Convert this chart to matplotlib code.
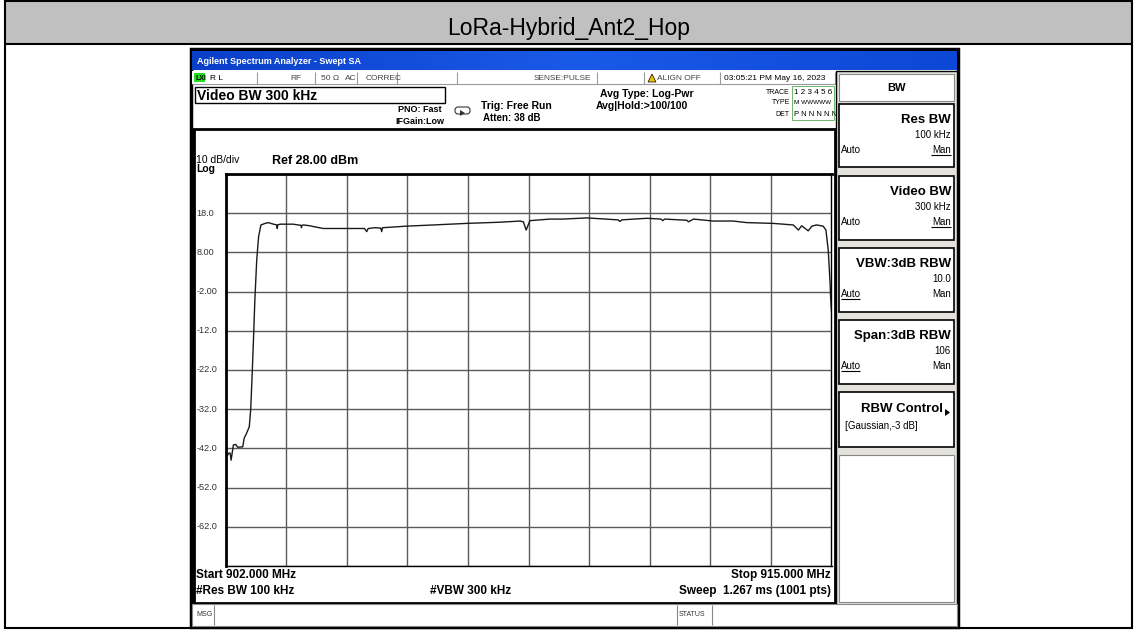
import matplotlib
matplotlib.use("Agg")
import matplotlib.pyplot as plt
from matplotlib.patches import Rectangle, Polygon, FancyBboxPatch
from matplotlib.colors import LinearSegmentedColormap
import numpy as np

plt.rcParams['font.family'] = ['Liberation Sans', 'DejaVu Sans']

# ---------------- data ----------------
title = "LoRa-Hybrid_Ant2_Hop"
start_mhz = 902.0
stop_mhz = 915.0
ref_dbm = 28.0
db_per_div = 10.0
ytick_labels = ["18.0", "8.00", "-2.00", "-12.0", "-22.0", "-32.0", "-42.0", "-52.0", "-62.0"]
ytick_values = [18.0, 8.0, -2.0, -12.0, -22.0, -32.0, -42.0, -52.0, -62.0]

freq_mhz = [902.00, 902.03, 902.07, 902.10, 902.12, 902.17, 902.22, 902.26, 902.37,
            902.40, 902.45, 902.51, 902.54, 902.57, 902.60, 902.63, 902.67, 902.71,
            902.76, 902.85, 902.92, 903.03, 903.10, 903.11, 903.12, 903.17, 903.31,
            903.45, 903.62, 903.63, 903.64, 903.67, 903.81, 903.88, 904.10, 904.31,
            904.60, 904.98, 905.03, 905.06, 905.21, 905.33, 905.35, 905.37, 905.89,
            906.46, 907.17, 907.89, 908.32, 908.39, 908.45, 908.53, 908.96, 909.25,
            909.75, 910.42, 910.46, 910.50, 911.04, 911.34, 911.38, 911.42, 911.90,
            911.93, 912.04, 912.46, 912.89, 913.18, 913.75, 914.18, 914.29, 914.36,
            914.50, 914.58, 914.68, 914.82, 914.88, 914.93, 914.97, 914.98, 915.00]
level_dbm = [-46.0, -44.1, -43.2, -43.2, -45.0, -41.1, -41.0, -41.7, -41.6,
             -39.4, -38.2, -36.5, -32.2, -23.7, -14.3, -4.1, 6.1, 12.0,
             15.0, 15.4, 15.6, 15.2, 15.0, 14.1, 15.0, 15.2, 15.2,
             15.2, 14.9, 14.3, 14.9, 15.0, 14.8, 14.6, 14.1, 14.1,
             14.1, 14.1, 13.3, 14.1, 14.3, 14.2, 13.3, 14.3, 14.7,
             15.0, 15.4, 15.7, 16.0, 15.8, 13.7, 16.1, 16.5, 16.5,
             16.8, 16.3, 15.9, 16.3, 16.7, 16.5, 16.1, 16.5, 16.2,
             15.8, 16.5, 16.0, 16.0, 15.6, 15.4, 15.0, 13.7, 14.8,
             13.5, 14.7, 15.0, 14.7, 13.7, 8.6, 0.1, -3.3, -7.0]

# ---------------- figure ----------------
W, H = 1137, 630
fig = plt.figure(figsize=(W / 100, H / 100), dpi=100)
bg = fig.add_axes([0, 0, 1, 1])
bg.set_xlim(0, W)
bg.set_ylim(H, 0)
bg.axis('off')


def rect(x0, y0, x1, y1, fc='none', ec='black', lw=1.0, z=1):
    bg.add_patch(Rectangle((x0, y0), x1 - x0, y1 - y0, facecolor=fc,
                           edgecolor=ec, linewidth=lw, zorder=z))


def txt(x, y, s, size=7, weight='normal', ha='left', va='center', color='black', z=5, **kw):
    bg.text(x, y, s, fontsize=size, fontweight=weight, ha=ha, va=va, color=color, zorder=z, **kw)


def hline(x0, x1, y, color='black', lw=1.0, z=2):
    bg.plot([x0, x1], [y, y], color=color, lw=lw, zorder=z, solid_capstyle='butt')


def vline(x, y0, y1, color='black', lw=1.0, z=2):
    bg.plot([x, x], [y0, y1], color=color, lw=lw, zorder=z, solid_capstyle='butt')


# outer table
rect(5, 0, 1132, 44, fc='#c0c0c0', ec='none', z=0)
rect(5, 1, 1132, 628, fc='none', ec='black', lw=1.5, z=3)
hline(5, 1132, 44, lw=1.5, z=3)
txt(W / 2, 29, title, size=16.5, ha='center')

# screenshot frame
rect(191, 49, 958, 627, fc='white', ec='black', lw=2.5, z=1)
grad = np.linspace(0, 1, 256).reshape(1, -1)
bluecmap = LinearSegmentedColormap.from_list('b', ['#0a3fc8', '#1a5ae8', '#0d47d6'])
bg.imshow(grad, extent=(192, 957, 70, 51), aspect='auto', cmap=bluecmap, zorder=2)
txt(197, 61, "Agilent Spectrum Analyzer - Swept SA", size=6.5, weight='bold', color='white', z=4)

# status row
rect(192, 71, 835, 84, fc='white', ec='none', z=2)
hline(192, 835, 84, color='#9a9a9a', lw=0.8)
rect(194, 73, 205, 82, fc='#22dd22', ec='none', z=3)
txt(195, 78, "LXI", size=5, weight='bold', color='black', z=4)
txt(210, 78, "R L", size=6)
txt(290, 78, "RF", size=6, color='#444444')
txt(321, 78, "50 Ω", size=6, color='#444444')
txt(345, 78, "AC", size=6, color='#444444')
txt(366, 78, "CORREC", size=6, color='#444444')
txt(534, 78, "SENSE:PULSE", size=6, color='#444444')
bg.add_patch(Polygon([[648, 82], [652, 74], [656, 82]], closed=True, fc='#f0c000', ec='black', lw=0.5, zorder=4))
txt(657, 78, "ALIGN OFF", size=6, color='#444444')
txt(724, 78, "03:05:21 PM May 16, 2023", size=6)
for sx in [257, 315, 357, 397, 457, 597, 644, 720, 835]:
    vline(sx, 72, 84, color='#9a9a9a', lw=0.8)

# second row
rect(195, 87, 445, 103, fc='white', ec='black', lw=1.0, z=3)
txt(197, 96, "Video BW 300 kHz", size=10, weight='bold')
txt(398, 110, "PNO: Fast", size=6.5, weight='bold')
txt(395, 122, "IFGain:Low", size=6.5, weight='bold')
bg.add_patch(FancyBboxPatch((455, 107), 15, 7, boxstyle='round,pad=0,rounding_size=3',
                            facecolor='white', edgecolor='#333333', lw=0.8, zorder=4))
bg.add_patch(Polygon([[460, 110], [460, 116], [465, 113]], closed=True, fc='#333333', ec='none', zorder=5))
txt(481, 106, "Trig: Free Run", size=7.5, weight='bold')
txt(483, 118, "Atten: 38 dB", size=7, weight='bold')
txt(600, 94, "Avg Type: Log-Pwr", size=7.5, weight='bold')
txt(596, 106, "Avg|Hold:>100/100", size=7.5, weight='bold')
txt(790, 92, "TRACE", size=5, ha='right')
txt(790, 103, "TYPE", size=5, ha='right')
txt(790, 114, "DET", size=5, ha='right')
rect(792, 86, 834, 120, fc='white', ec='#55aa55', lw=0.6, z=3)
txt(794, 93, "1 2 3 4 5 6", size=5.8)
txt(794, 103, "M WWWWW", size=4.6)
txt(794, 114, "P N N N N N", size=5.5)

# right soft-key panel
rect(836, 71, 957, 605, fc='#e4e2dc', ec='black', lw=1.0, z=2)
rect(839, 74, 954, 101, fc='white', ec='#888888', lw=0.8, z=3)
txt(896, 88, "BW", size=8, weight='bold', ha='center', z=5)

keys = [
    (104, 167, "Res BW", "100 kHz", False, True),
    (176, 240, "Video BW", "300 kHz", False, True),
    (248, 312, "VBW:3dB RBW", "10.0", True, False),
    (320, 384, "Span:3dB RBW", "106", True, False),
]
for (y0, y1, t1, t2, auto_ul, man_ul) in keys:
    rect(839, y0, 954, y1, fc='white', ec='black', lw=1.2, z=3)
    txt(951, y0 + 16, t1, size=9.5, weight='bold', ha='right')
    txt(951, y0 + 31, t2, size=7, ha='right')
    txt(841, y0 + 46, "Auto", size=7, ha='left')
    txt(951, y0 + 46, "Man", size=7, ha='right')
    if auto_ul:
        hline(841, 860, y0 + 51, lw=0.8, z=5)
    if man_ul:
        hline(931, 951, y0 + 51, lw=0.8, z=5)

rect(839, 392, 954, 447, fc='white', ec='black', lw=1.2, z=3)
txt(943, 409, "RBW Control", size=9.5, weight='bold', ha='right')
txt(845, 426, "[Gaussian,-3 dB]", size=7, ha='left')
bg.add_patch(Polygon([[945, 409], [945, 416], [950, 412.5]], closed=True, fc='black', ec='none', zorder=5))
rect(839, 455, 954, 602, fc='white', ec='#888888', lw=0.8, z=3)

# main display frame
rect(193, 129, 835, 603, fc='white', ec='black', lw=2.0, z=2)
vline(193.5, 129, 603, lw=2.0, z=3)
txt(196, 160, "10 dB/div", size=7.5)
txt(196, 169, "Log", size=7.5, weight='bold')
txt(272, 161, f"Ref {ref_dbm:.2f} dBm", size=9, weight='bold')

txt(196, 575, f"Start {start_mhz:.3f} MHz", size=8.5, weight='bold')
txt(831, 575, f"Stop {stop_mhz:.3f} MHz", size=8.5, weight='bold', ha='right')
txt(196, 591, "#Res BW 100 kHz", size=8.5, weight='bold')
txt(430, 591, "#VBW 300 kHz", size=8.5, weight='bold')
txt(831, 591, "Sweep  1.267 ms (1001 pts)", size=8.5, weight='bold', ha='right')

# status bar
rect(192, 604, 957, 626, fc='white', ec='#888888', lw=0.8, z=3)
txt(196, 615, "MSG", size=5, color='#333333')
vline(214, 605, 625, color='#888888', lw=0.8, z=4)
txt(679, 615, "STATUS", size=5, color='#333333')
vline(677, 605, 625, color='#888888', lw=0.8, z=4)
vline(712, 605, 625, color='#888888', lw=0.8, z=4)

# ---------------- trace axes ----------------
L, R, T, B = 225.5, 831.5, 174.0, 566.0
ax = fig.add_axes([L / W, 1 - B / H, (R - L) / W, (B - T) / H])
ax.set_zorder(10)
ax.set_xlim(start_mhz, stop_mhz)
ax.set_ylim(ref_dbm - 10 * db_per_div, ref_dbm)
xt = [start_mhz + k * (stop_mhz - start_mhz) / 10 for k in range(11)]
yt = [ref_dbm - k * db_per_div for k in range(11)]
ax.set_xticks(xt)
ax.set_yticks(yt)
ax.grid(True, color='#5a5a5a', lw=1.0)
ax.tick_params(length=0, labelbottom=False, labelleft=False)
for s in ax.spines.values():
    s.set_color('black')
    s.set_linewidth(1.0)
ax.spines['top'].set_linewidth(2.0)
ax.spines['left'].set_linewidth(2.0)
ax.plot(freq_mhz, level_dbm, color='#1a1a1a', lw=1.0, clip_on=True)
for v, lab in zip(ytick_values, ytick_labels):
    ax.text(-0.048, v, lab, transform=ax.get_yaxis_transform(), fontsize=6.6,
            ha='left', va='center', color='#333333')

fig.savefig("out.png", dpi=100)
